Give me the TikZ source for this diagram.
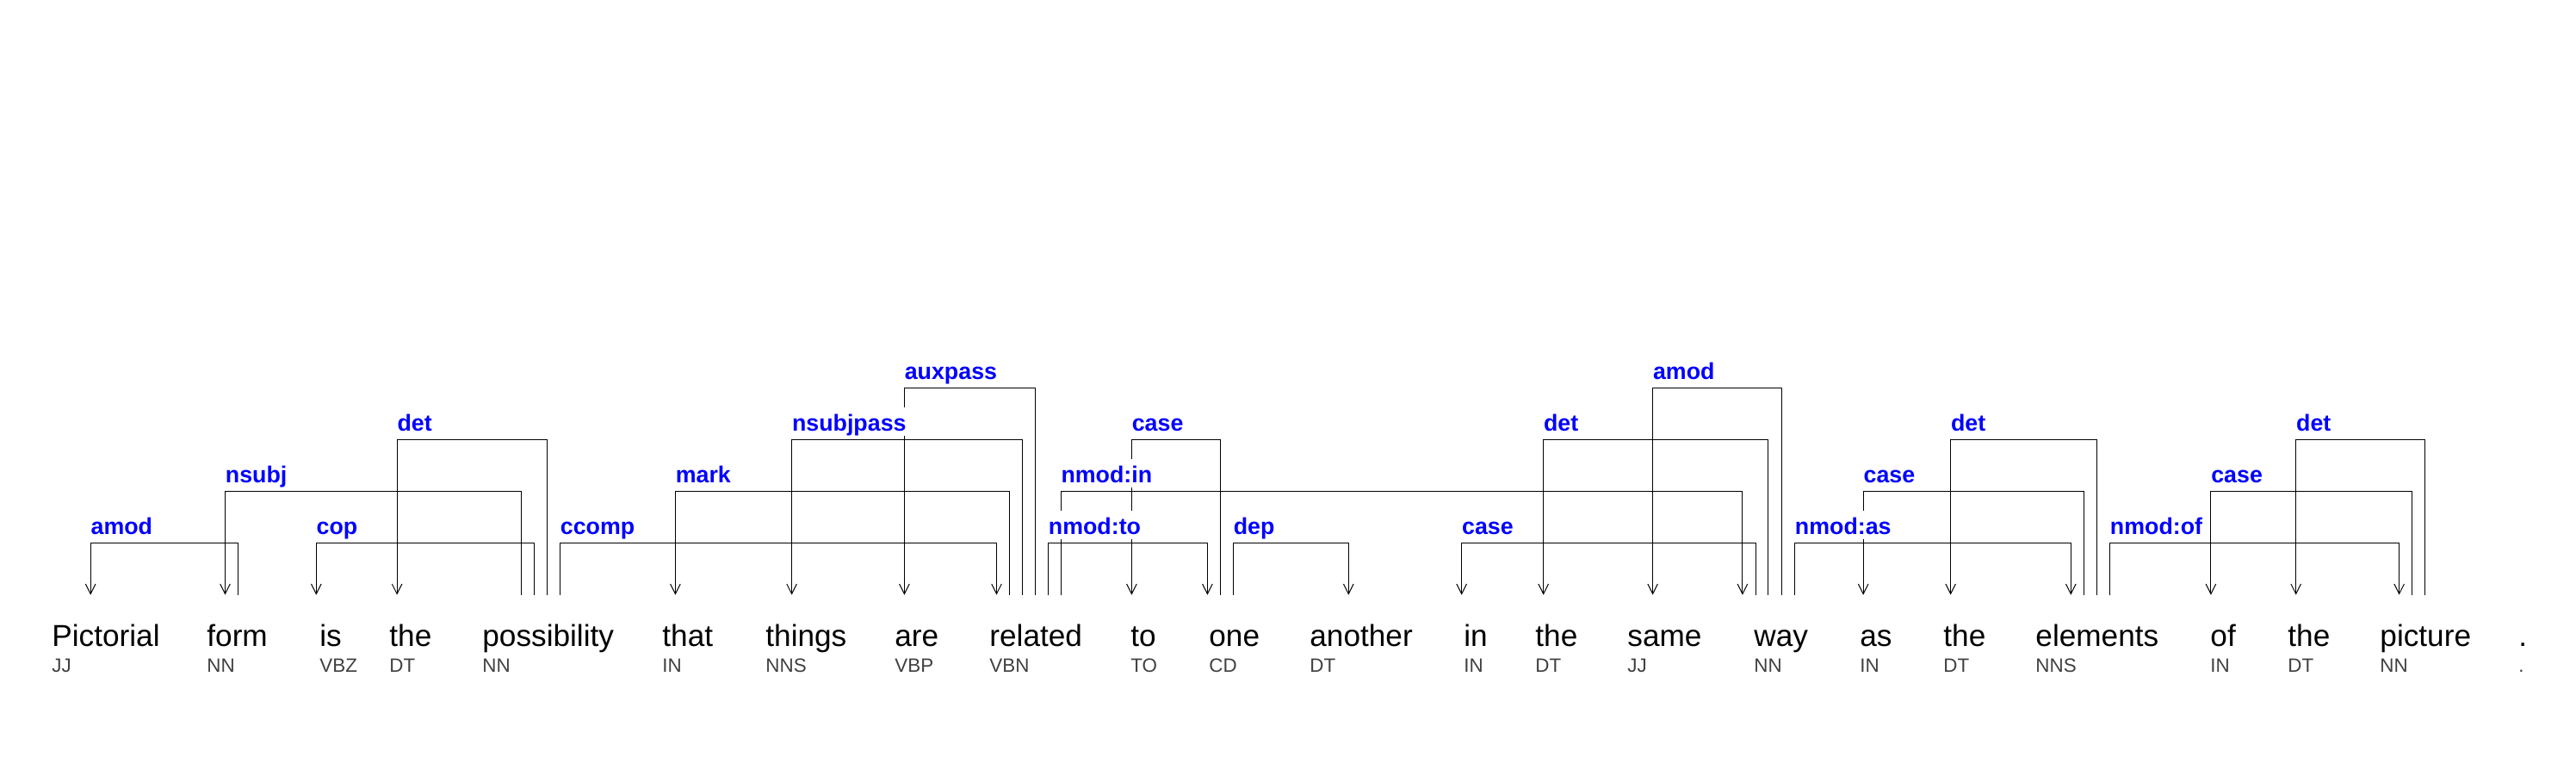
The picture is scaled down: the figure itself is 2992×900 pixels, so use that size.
\documentclass[tikz,border=0pt]{standalone}
\usepackage{fontspec}
\setmainfont{Liberation Sans}
\usetikzlibrary{arrows.meta}
\definecolor{labblue}{RGB}{0,0,255}
\definecolor{taggray}{RGB}{64,64,64}
\tikzset{
  word/.style={anchor=base west,inner sep=0pt,font=\fontsize{17.6pt}{20pt}\selectfont,text=black},
  tag/.style={anchor=base west,inner sep=0pt,font=\fontsize{11.2pt}{13pt}\selectfont,text=taggray},
  lab/.style={anchor=base west,inner sep=0pt,fill=white,text height=14pt,text depth=2.6pt,
    font=\fontsize{13.4pt}{15pt}\selectfont\bfseries,text=labblue},
  edge/.style={draw=black,line width=0.5pt},
  arr/.style={edge,-{Straight Barb[length=5.8pt,width=5.8pt,line width=0.5pt]}}
}
\begin{document}
\begin{tikzpicture}[x=0.5pt,y=-0.5pt]
\useasboundingbox[fill=white] (0,0) rectangle (2992,900);
% words and tags
\foreach \wx/\w/\t [count=\i] in {
  60/Pictorial/JJ, 240/form/NN, 371/is/VBZ, 452/the/DT, 560/possibility/NN,
  769/that/IN, 889/things/NNS, 1039/are/VBP, 1149/related/VBN, 1313/to/TO,
  1404/one/CD, 1521/another/DT, 1700/in/IN, 1783/the/DT, 1890/same/JJ,
  2037/way/NN, 2160/as/IN, 2257/the/DT, 2364/elements/NNS, 2567/of/IN,
  2657/the/DT, 2764/picture/NN, 2925/./.}{
  \node[word] (w\i) at (\wx,750) {\w};
  \node[tag] (t\i) at (\wx,780) {\t};
}
% connectors
\foreach \hx/\dx/\ly [count=\i] in {
  276.1/105.2/630.3, 605.2/261.5/570.3, 620.5/367.3/630.3, 635.2/461.1/510.3,
  650.5/1157.5/630.3, 1172.2/784.4/570.3, 1187.5/919.6/510.3, 1202.2/1050.4/450.3,
  1217.5/1402.4/630.3, 1232.1/2023.9/570.3, 1417.1/1314.4/510.3, 1432.4/1566.3/630.3,
  2039.2/1697.7/630.3, 2053.9/1792.7/510.3, 2069.2/1919.6/450.3, 2084.5/2405.3/630.3,
  2420.0/2164.2/570.3, 2435.2/2265.6/510.3, 2450.5/2786.6/630.3, 2801.3/2567.9/570.3,
  2816.6/2666.7/510.3}{
  \coordinate (h\i) at (\hx,690.7);
  \coordinate (d\i) at (\dx,690.7);
  \draw[arr] (h\i) -- (\hx,\ly) -- (\dx,\ly) -- (d\i);
}
% labels
\foreach \lx/\ly/\lab [count=\i] in {
  105.2/630.3/amod, 261.5/570.3/nsubj, 367.3/630.3/cop, 461.1/510.3/det,
  650.5/630.3/ccomp, 784.4/570.3/mark, 919.6/510.3/nsubjpass, 1050.4/450.3/auxpass,
  1217.5/630.3/nmod:to, 1232.1/570.3/nmod:in, 1314.4/510.3/case, 1432.4/630.3/dep,
  1697.7/630.3/case, 1792.7/510.3/det, 1919.6/450.3/amod, 2084.5/630.3/nmod:as,
  2164.2/570.3/case, 2265.6/510.3/det, 2450.5/630.3/nmod:of, 2567.9/570.3/case,
  2666.7/510.3/det}{
  \node[lab] (l\i) at (\lx,\ly-9.8) {\lab};
}
\end{tikzpicture}
\end{document}
